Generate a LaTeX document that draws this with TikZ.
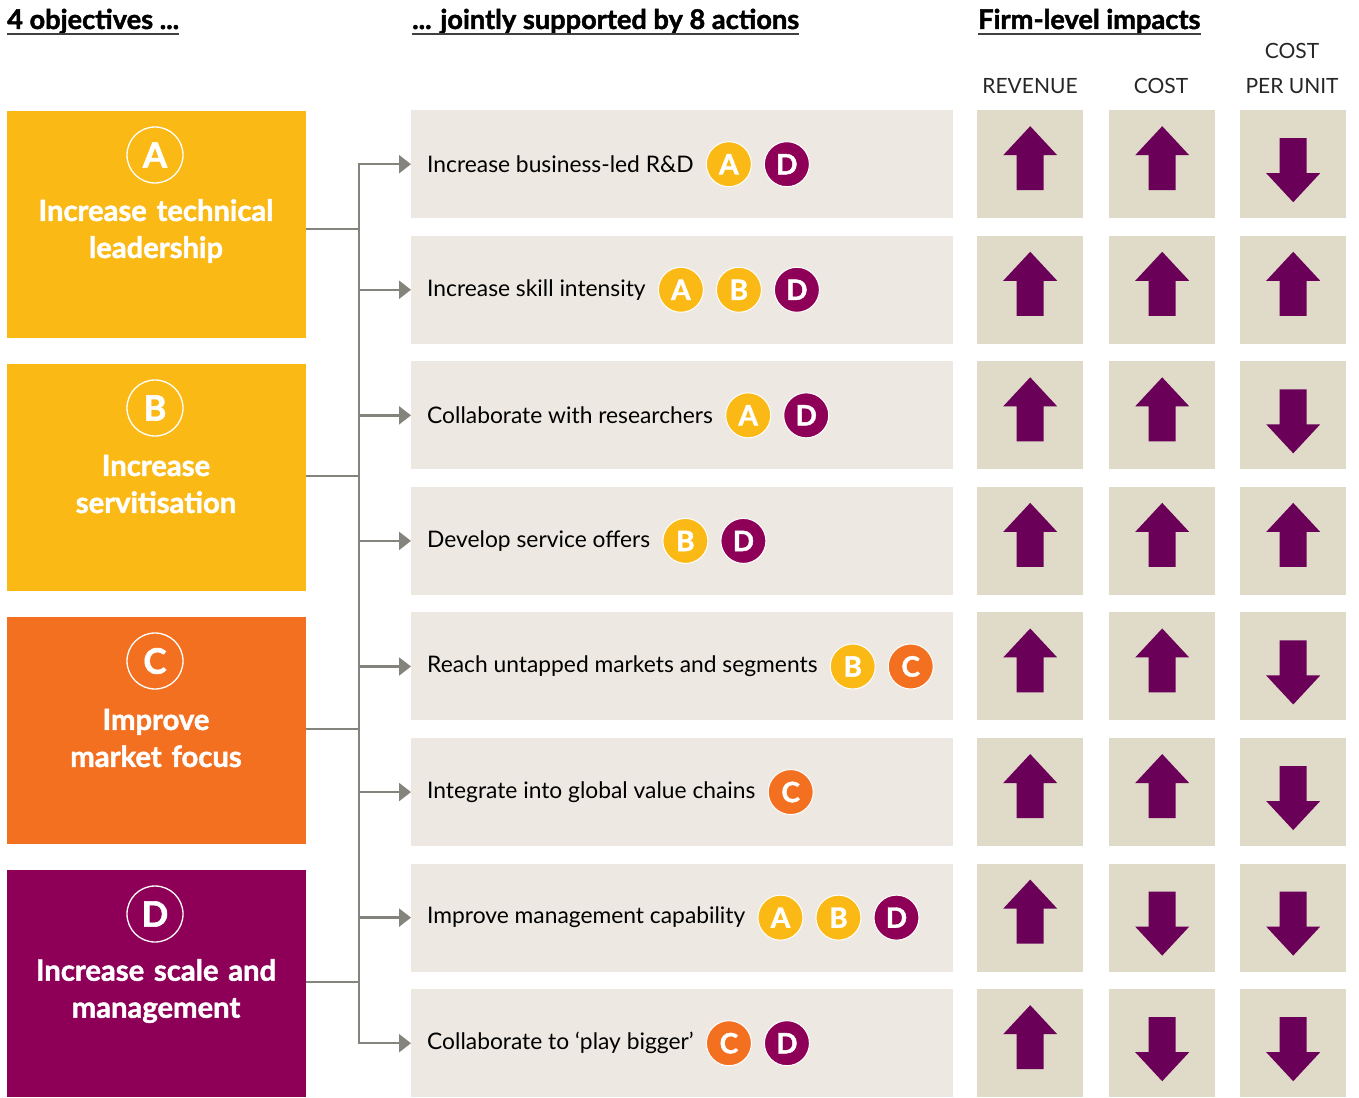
\documentclass[tikz,border=0pt]{standalone}
\usepackage{fontspec}
\setmainfont{Lato}
\newfontfamily\heavy{Lato}[FakeBold=1.6]
\usetikzlibrary{arrows.meta,positioning}
\definecolor{yel}{HTML}{FBB916}
\definecolor{ora}{HTML}{F37021}
\definecolor{pur}{HTML}{8E0058}
\definecolor{arrc}{HTML}{6B0058}
\definecolor{actc}{HTML}{EDE9E2}
\definecolor{impc}{HTML}{E0DAC8}
\definecolor{connc}{HTML}{85847C}
\newcommand\impArrow[2]{%
  \fill[arrc, shift={(#1.center)}, yscale=#2]
    (-13.5,26) -- (-13.5,-9) -- (-27,-9) -- (0,-38) -- (27,-9) -- (13.5,-9) -- (13.5,26) -- cycle;}
\begin{document}
\begin{tikzpicture}[x=1pt,y=-1pt,
  header/.style={anchor=base west, inner sep=0pt, font=\fontsize{27.2}{30}\heavy\bfseries},
  colhead/.style={anchor=base, inner sep=0pt, text=black!85, font=\fontsize{21}{25}\selectfont},
  objbox/.style={rectangle, anchor=north west, inner sep=0pt, minimum width=299pt, minimum height=227pt},
  objcirc/.style={circle, draw=white, line width=1.3pt, minimum size=56pt, inner sep=0pt, text=white, font=\fontsize{35}{35}\heavy\bfseries},
  objtext/.style={text=white, align=center, text width=296pt, inner sep=0pt, font=\fontsize{29.2}{37}\heavy\bfseries},
  actbox/.style={rectangle, fill=actc, anchor=north west, inner sep=0pt, minimum width=542pt, minimum height=108pt},
  acttext/.style={anchor=west, inner sep=0pt, font=\fontsize{22.8}{26}\selectfont},
  badge/.style={circle, draw=white, line width=1pt, minimum size=45pt, inner sep=0pt, text=white, font=\fontsize{28}{28}\heavy\bfseries},
  impbox/.style={rectangle, fill=impc, anchor=north west, inner sep=0pt, minimum width=106pt, minimum height=108pt},
  conn/.style={draw=connc, line width=2.4pt, line join=miter},
  conarrow/.style={conn, -{Triangle[length=12pt,width=18pt]}},
  node distance=12pt]
\useasboundingbox (0,0) rectangle (1359,1097);

% headers
\node[header] (h1) at (7,29) {4 objectives ...};
\node[header] (h2) at (412,29) {... jointly supported by 8 actions};
\node[header] (h3) at (978,29) {Firm-level impacts};
\foreach \h in {h1,h2,h3}{
  \draw[line width=2pt, black!75] ([yshift=-5pt]\h.base west) -- ([yshift=-5pt]\h.base east);
}
\node[colhead] (c1) at (1030,94) {REVENUE};
\node[colhead] (c2) at (1161,94) {COST};
\node[colhead] (c3a) at (1292,59) {COST};
\node[colhead] (c3b) at (1292,94) {PER UNIT};

% objectives
\node[objbox, fill=yel] (oA) at (7,111) {};
\node[objbox, fill=yel] (oB) at (7,364) {};
\node[objbox, fill=ora] (oC) at (7,617) {};
\node[objbox, fill=pur] (oD) at (7,870) {};
\node[objcirc] (cA) at (155,155) {A};
\node[objcirc] (cB) at (155,408) {B};
\node[objcirc] (cC) at (155,661) {C};
\node[objcirc] (cD) at (155,914) {D};
\node[objtext] (tA) at (156,231) {Increase technical\\leadership};
\node[objtext] (tB) at (156,484) {Increase\\servitisation};
\node[objtext] (tC) at (156,738) {Improve\\market focus};
\node[objtext] (tD) at (156,991) {Increase scale and\\management};

% actions
\foreach \i in {1,...,8}{
  \pgfmathsetmacro\yy{110+125.57*(\i-1)}
  \node[actbox] (a\i) at (411,\yy) {};
  \node[impbox] (rev\i) at (977,\yy) {};
  \node[impbox] (cost\i) at (1109,\yy) {};
  \node[impbox] (cpu\i) at (1240,\yy) {};
}
\node[acttext] (t1) at ([xshift=16pt]a1.west) {Increase business-led R\&D};
\node[acttext] (t2) at ([xshift=16pt]a2.west) {Increase skill intensity};
\node[acttext] (t3) at ([xshift=16pt]a3.west) {Collaborate with researchers};
\node[acttext] (t4) at ([xshift=16pt]a4.west) {Develop service offers};
\node[acttext] (t5) at ([xshift=16pt]a5.west) {Reach untapped markets and segments};
\node[acttext] (t6) at ([xshift=16pt]a6.west) {Integrate into global value chains};
\node[acttext] (t7) at ([xshift=16pt]a7.west) {Improve management capability};
\node[acttext] (t8) at ([xshift=16pt]a8.west) {Collaborate to ‘play bigger’};

% badges
\node[badge, fill=yel, right=of t1] (b1a) {A};
\node[badge, fill=pur, right=of b1a] (b1b) {D};
\node[badge, fill=yel, right=of t2] (b2a) {A};
\node[badge, fill=yel, right=of b2a] (b2b) {B};
\node[badge, fill=pur, right=of b2b] (b2c) {D};
\node[badge, fill=yel, right=of t3] (b3a) {A};
\node[badge, fill=pur, right=of b3a] (b3b) {D};
\node[badge, fill=yel, right=of t4] (b4a) {B};
\node[badge, fill=pur, right=of b4a] (b4b) {D};
\node[badge, fill=yel, right=of t5] (b5a) {B};
\node[badge, fill=ora, right=of b5a] (b5b) {C};
\node[badge, fill=ora, right=of t6] (b6a) {C};
\node[badge, fill=yel, right=of t7] (b7a) {A};
\node[badge, fill=yel, right=of b7a] (b7b) {B};
\node[badge, fill=pur, right=of b7b] (b7c) {D};
\node[badge, fill=ora, right=of t8] (b8a) {C};
\node[badge, fill=pur, right=of b8a] (b8b) {D};

% impact arrows
\foreach \i/\r/\c/\u in {1/1/1/-1, 2/1/1/1, 3/1/1/-1, 4/1/1/1, 5/1/1/-1, 6/1/1/-1, 7/1/-1/-1, 8/1/-1/-1}{
  \impArrow{rev\i}{\r}
  \impArrow{cost\i}{\c}
  \impArrow{cpu\i}{\u}
}

% connectors
\coordinate (tr) at (359,0);
\draw[conarrow] (a8.west -| tr) -- (a1.west -| tr) -- (a1.west);
\draw[conarrow] (a1.west -| tr) -- (a8.west -| tr) -- (a8.west);
\foreach \i in {2,...,7}{
  \draw[conarrow] (a\i.west -| tr) -- (a\i.west);
}
\foreach \o/\yy in {oA/229, oB/476, oC/729, oD/982}{
  \draw[conn] (\o.east |- 0,\yy) -- (tr |- 0,\yy);
}
\end{tikzpicture}
\end{document}
